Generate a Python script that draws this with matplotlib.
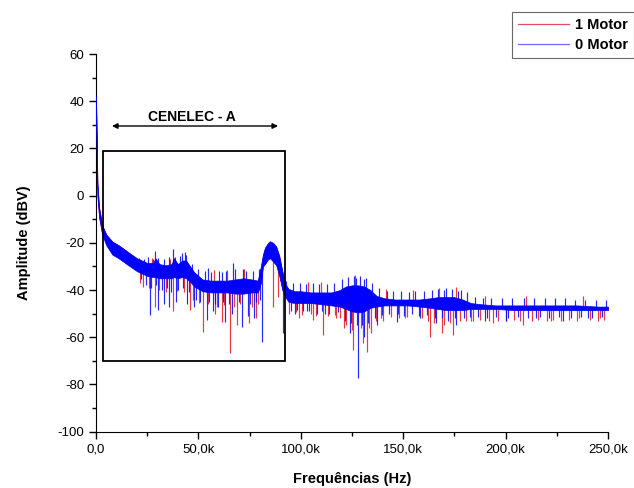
import numpy as np
import matplotlib
matplotlib.use("Agg")
import matplotlib.pyplot as plt
from matplotlib.ticker import MultipleLocator, FuncFormatter
from matplotlib.lines import Line2D
from matplotlib.patches import Rectangle

plt.rcParams['font.family'] = ['Liberation Sans', 'DejaVu Sans']

# ---------------- data (frequency in kHz, amplitude in dBV) ----------------
# dense core of each noisy spectrum (upper / lower edge)
freq = [0, 0.3, 0.7, 1.5, 3, 5, 8, 11, 15, 20, 25, 28, 29, 31, 34, 37, 38, 40, 42, 44,
        46, 48, 52, 56, 60, 64, 68, 72, 76, 79, 80.5, 81.5, 82.5, 84, 85, 86.5, 88,
        89.5, 91, 92.5, 94, 97, 100, 105, 110, 115, 119, 122, 125, 128, 131, 134,
        137, 141, 146, 152, 158, 163, 167, 171, 175, 179, 183, 188, 195, 205, 215,
        225, 235, 245, 250]

blue_hi = [42, 25, 5, -5, -12.5, -16.5, -19.5, -21, -23.5, -26.5, -28.5, -28.5, -26.5,
           -29, -29.5, -29, -26.5, -29, -27.5, -27.5, -30, -32.5, -35.5, -36, -36, -36,
           -35.5, -35, -35.5, -36, -30, -25, -22, -20, -19.3, -20, -21.5, -25.5, -32,
           -37.5, -39.5, -40.5, -40.5, -41, -41, -41, -40, -38.5, -38, -38, -38.5, -40,
           -42.5, -43.5, -44, -44, -44, -43.5, -43, -43, -43, -44, -45.5, -46, -46.5,
           -46.5, -46.5, -46.5, -46.5, -47, -47]
blue_lo = [40, 20, 0, -9, -16.5, -21, -25, -26.5, -29, -32, -34, -34.5, -34.5, -35, -35,
           -35, -34.5, -35, -34.5, -35, -36.5, -38.5, -40.5, -41, -41, -41, -41.5, -41.5,
           -41, -41, -37, -30, -29, -27, -26.5, -28, -29.5, -34, -40, -43, -45, -45.5,
           -45.5, -45.5, -46, -46.5, -47, -48, -49, -49.5, -49, -47.5, -47, -46.5,
           -46.5, -46.5, -47, -47.5, -48, -48.5, -48.5, -48.5, -48, -48, -48, -48.5,
           -48.5, -48.5, -48.5, -48.5, -48.5]

red_hi = [42, 25, 5, -5, -12.5, -16.5, -19.5, -21, -23.5, -27, -29, -29, -27, -29.5, -30,
          -29.5, -27, -29.5, -28, -28, -30.5, -33, -36, -36.5, -36.5, -36.5, -36, -35.5,
          -36, -36.5, -30.5, -25.5, -22.5, -20.5, -19.8, -20.5, -22, -26, -32.5, -38,
          -40, -41, -41, -41.5, -41.5, -41.5, -40.5, -39, -38.5, -38.5, -39, -40.5, -43,
          -44, -44.5, -44.5, -44.5, -44, -43.5, -43.5, -43.5, -44.5, -46, -46.5, -47,
          -47, -47, -47, -47, -47.5, -47.5]
red_lo = [40, 20, 0, -9, -16, -20.5, -24.5, -26, -28.5, -31.5, -33.5, -34, -34, -34.5,
          -34.5, -34.5, -34, -34.5, -34, -34.5, -36, -38, -40, -40.5, -40.5, -40.5, -41,
          -41, -40.5, -40.5, -36.5, -29.5, -28.5, -26.5, -26, -27.5, -29, -33.5, -39.5,
          -42.5, -44.5, -45, -45, -45, -45.5, -46, -46.5, -47.5, -48.5, -49, -48.5, -47,
          -46.5, -46, -46, -46, -46.5, -47, -47.5, -48, -48, -48, -47.5, -47.5, -47.5,
          -48, -48, -48, -48, -48, -48]

# individual excursions out of the core: (frequency kHz, tip dBV)
blue_spikes = [
    (26.4, -50.6), (30.4, -48.5), (33, -46), (35.5, -47), (39, -45), (44.5, -46),
    (48, -47), (54, -52.7), (57, -49), (59.5, -47), (63, -53.4), (66.5, -50),
    (71.1, -55.5), (74, -51), (77, -52), (80.9, -61.9), (91.5, -58.3), (97, -50),
    (103, -49), (112, -50), (124, -58), (128, -77.4), (131, -60), (137, -55),
    (146.8, -53.4), (158, -52), (166, -54), (176, -55), (190, -53), (200, -53),
    (215, -52), (228, -53), (240, -52),
    (28.8, -23.3), (37.4, -22.6), (41.8, -24.5), (43.3, -24), (54.7, -30.7),
    (61.4, -32.2), (67, -28.6), (72, -31), (127, -35), (131, -35.5), (170, -40),
    (177, -40.5),
    (21, -26.5), (22, -35.5), (23.5, -27), (24.5, -38), (25.5, -26), (27, -39),
    (28, -27), (29.5, -38), (30.5, -26.5), (32, -40), (33, -27), (34.5, -39),
    (35.5, -26), (36.5, -41), (38.5, -26), (40, -40), (41, -25.5), (42.5, -39),
    (44, -25), (45.5, -41), (47, -29), (49, -44), (50, -31), (51, -45), (53, -32),
    (55, -45), (56, -32.5), (58, -46), (60, -32), (62, -45), (63.5, -32), (65, -46),
    (68, -31), (70, -45), (73, -32), (75, -46), (76.5, -32), (78, -45), (79.5, -31),
    (80.2, -44), (93, -36), (95, -49), (96, -37), (98, -48.5), (99.5, -37),
    (101, -49), (102.5, -37.5), (104, -49), (106, -37), (108, -50), (109, -37.5),
    (110.5, -49), (113, -37.5), (114, -50), (116, -37), (118, -49.5), (120, -35.5),
    (121.5, -53), (123, -34.5), (124.5, -54), (126, -34), (127.5, -55), (129, -34),
    (130, -55), (132, -35), (133, -54), (135, -37), (136, -52), (138, -39),
    (139.5, -50.5), (142, -40.5), (143, -50), (145, -40.5), (147.5, -50),
    (149, -40.5), (150.5, -51), (153, -41), (154.5, -50), (156, -40.5), (157.5, -51),
    (160, -40.5), (161.5, -50.5), (164, -40), (165.5, -52), (167, -39.5), (169, -52),
    (171, -39), (172, -53), (174, -39.5), (175.5, -52), (178, -40), (179.5, -52),
    (181, -41), (182.5, -51.5), (185, -43), (186.5, -51.5), (189, -43.5), (191, -52),
    (193, -43.5), (195.5, -51.5), (198, -43.5), (201, -52), (203, -43.5),
    (206, -51.5), (209, -43.5), (211, -52), (214, -43.5), (217, -51.5), (219, -43.5),
    (221, -52), (224, -43.5), (226, -51.5), (229, -43.5), (232, -52), (234, -44),
    (237, -51.5), (239, -44), (242, -52), (244, -44), (247, -51.5), (249, -44),
]
red_spikes = [
    (29, -47), (37.8, -49), (45.9, -48.5), (52.4, -57.6), (58, -50), (61.4, -53.4),
    (65.4, -66.8), (69, -55), (74.5, -54), (78, -52), (86.6, -47), (89, -43),
    (99, -52), (106, -52.7), (111, -59), (117, -52), (121, -56), (125.3, -65.4),
    (130.5, -62.6), (132.5, -66.1), (134.5, -58), (140, -53), (151, -52),
    (163, -59.8), (168.8, -58.3), (174.5, -59), (183, -53), (194, -54),
    (208.6, -54.8), (222, -53), (236, -52), (246, -52),
    (21.5, -37), (23, -38.5), (26, -39), (27.5, -26.5), (31, -40), (34, -41),
    (36, -27), (39.5, -40.5), (43, -41), (47.5, -44), (50.5, -45.5), (54.5, -46),
    (57.5, -31.5), (59, -47), (62.5, -46.5), (64, -31.5), (67.5, -47), (70.5, -46),
    (72.5, -31), (76, -47), (79, -46), (94, -50), (97.5, -49.5), (100.5, -50.5),
    (103.5, -36.5), (105, -50), (107.5, -51), (110, -36.5), (113.5, -51),
    (116.5, -50.5), (119, -52), (122, -55), (125, -57), (126.5, -33.5), (129.5, -56),
    (133.5, -56), (136.5, -53), (139, -52), (141.5, -39.5), (144, -51.5), (148, -52),
    (152, -51.5), (155, -40), (159, -52), (162, -53), (165, -54), (167.5, -39),
    (170, -55), (173, -54), (176, -38.5), (177.5, -53), (180.5, -53), (184, -53),
    (187.5, -52.5), (190, -42.5), (192, -53), (196.5, -53), (200, -53), (204, -52.5),
    (207, -53), (210, -42.5), (213, -53), (216, -52.5), (220, -53), (223, -52.5),
    (227, -53), (231, -52.5), (235, -53), (238, -42.5), (241, -52.5), (245, -53),
    (248, -52.5),
]

series_names = ["1 Motor", "0 Motor"]
box_f = (3.6, 92.3)
box_a = (-70, 19)
arrow_f = (7.8, 88.9)
arrow_a = 29.5
band_label = "CENELEC - A"

# ---------------- figure ----------------
RED = '#e8141e'
BLUE = '#0000ff'

fig = plt.figure(figsize=(6.34, 4.88), dpi=100)
ax = fig.add_axes([96/634, 1-431.7/488, 512/634, (431.7-54)/488])

f = np.array(freq)


def draw_series(hi, lo, spikes, color, z):
    hi = np.array(hi, float)
    lo = np.array(lo, float)
    mid = (hi + lo) / 2
    ax.fill_between(f, lo, hi, color=color, lw=0.5, zorder=z)
    for fs, tip in spikes:
        base = np.interp(fs, f, mid)
        ax.plot([fs, fs], [base, tip], color=color, lw=0.85, alpha=0.85,
                zorder=z, solid_capstyle='butt')


draw_series(red_hi, red_lo, red_spikes, RED, 2)
draw_series(blue_hi, blue_lo, blue_spikes, BLUE, 3)

ax.add_patch(Rectangle((box_f[0], box_a[0]), box_f[1]-box_f[0], box_a[1]-box_a[0],
                       fill=False, ec='black', lw=1.3, zorder=5))
ax.annotate('', xy=(arrow_f[0], arrow_a), xytext=(arrow_f[1], arrow_a),
            arrowprops=dict(arrowstyle='<|-|>', color='black', lw=1.0,
                            mutation_scale=8, shrinkA=0, shrinkB=0), zorder=5)
ax.text(47, 33.2, band_label, ha='center', va='center', fontsize=10,
        fontweight='bold', zorder=5)

ax.set_xlim(0, 250)
ax.set_ylim(-100, 60)
ax.spines['top'].set_visible(False)
ax.spines['right'].set_visible(False)
ax.xaxis.set_major_locator(MultipleLocator(50))
ax.xaxis.set_minor_locator(MultipleLocator(25))
ax.yaxis.set_major_locator(MultipleLocator(20))
ax.yaxis.set_minor_locator(MultipleLocator(10))
ax.xaxis.set_major_formatter(FuncFormatter(
    lambda v, p: '0,0' if v == 0 else f"{v:.1f}k".replace('.', ',')))
ax.yaxis.set_major_formatter(FuncFormatter(lambda v, p: f"{int(v)}"))
ax.tick_params(which='major', direction='out', length=5, width=1, labelsize=9.5)
ax.tick_params(which='minor', direction='out', length=3, width=1)
ax.set_xlabel("Frequências (Hz)", fontsize=10.5, fontweight='bold', labelpad=12)
ax.set_ylabel("Amplitude (dBV)", fontsize=10.5, fontweight='bold', labelpad=19)

handles = [Line2D([], [], color='#e05060', lw=0.9),
           Line2D([], [], color='#6a6aff', lw=0.9)]
leg = fig.legend(handles, series_names, loc='upper right',
                 bbox_to_anchor=(1.0, 1 - 12/488), frameon=True, fancybox=False,
                 prop={'weight': 'bold', 'size': 10.5}, handlelength=3.5,
                 handletextpad=0.4, borderpad=0.4, labelspacing=0.45,
                 borderaxespad=0.0)
leg.get_frame().set_edgecolor('#444444')
leg.get_frame().set_linewidth(0.8)

fig.savefig('out.png', dpi=100)
